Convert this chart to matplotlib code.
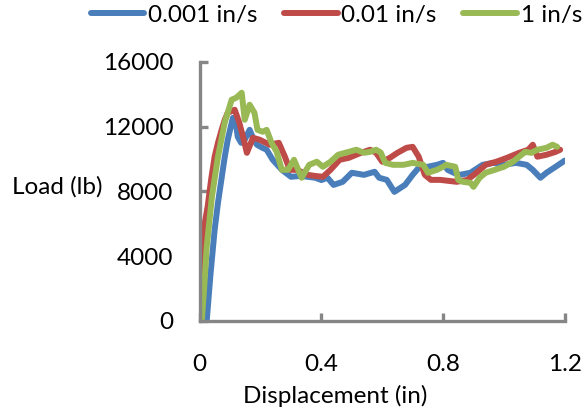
import matplotlib
matplotlib.use("Agg")
import matplotlib.pyplot as plt

plt.rcParams["font.family"] = ["Lato", "DejaVu Sans"]

# load-displacement records, three loading rates
disp_slow = [0.023, 0.035, 0.049, 0.06, 0.071, 0.082, 0.092, 0.109, 0.118, 0.125, 0.136, 0.148,
             0.164, 0.175, 0.188, 0.205, 0.22, 0.24, 0.27, 0.30, 0.33, 0.355, 0.38, 0.40, 0.42,
             0.44, 0.47, 0.50, 0.54, 0.575, 0.59, 0.615, 0.64, 0.675, 0.70, 0.72, 0.75, 0.78,
             0.80, 0.815, 0.835, 0.855, 0.89, 0.93, 0.965, 1.0, 1.04, 1.075, 1.095, 1.12, 1.14,
             1.17, 1.2]
load_slow = [0, 2800, 5620, 7300, 8700, 10100, 11180, 12540, 12300, 11370, 11000, 11180,
             11800, 11300, 10880, 10700, 10570, 9950, 9330, 8900, 8950, 8900, 8840, 8700, 8840,
             8400, 8590, 9150, 9020, 9210, 8840, 8710, 7970, 8400, 9020, 9460, 9520, 9640,
             9760, 9330, 9150, 9020, 9150, 9640, 9760, 9640, 9760, 9640, 9330, 8840, 9150,
             9520, 9900]

disp_mid = [0.0, 0.005, 0.01, 0.018, 0.026, 0.038, 0.049, 0.06, 0.072, 0.082, 0.092, 0.115,
            0.13, 0.142, 0.155, 0.175, 0.197, 0.23, 0.26, 0.28, 0.296, 0.32, 0.355, 0.38, 0.405,
            0.43, 0.46, 0.49, 0.53, 0.56, 0.58, 0.60, 0.625, 0.65, 0.68, 0.70, 0.72, 0.74,
            0.76, 0.79, 0.845, 0.88, 0.91, 0.94, 0.975, 1.01, 1.05, 1.08, 1.095, 1.11, 1.14,
            1.17, 1.185]
load_mid = [500, 3000, 5000, 6200, 7050, 8800, 10140, 11000, 11800, 12400, 12850, 13040,
            12240, 11400, 10380, 11310, 11190, 10880, 11000, 10140, 9330, 9330, 9020, 8950, 8900,
            9330, 9950, 10070, 10380, 10570, 10380, 9830, 10070, 10380, 10690, 10750, 10140, 9020,
            8710, 8710, 8590, 8710, 9150, 9640, 9830, 10070, 10380, 10570, 10880, 10140, 10260,
            10440, 10570]

disp_fast = [0.007, 0.015, 0.023, 0.04, 0.06, 0.082, 0.105, 0.12, 0.138, 0.148, 0.164, 0.18,
             0.19, 0.207, 0.22, 0.236, 0.253, 0.27, 0.29, 0.31, 0.335, 0.36, 0.385, 0.405, 0.43,
             0.455, 0.49, 0.515, 0.54, 0.56, 0.58, 0.595, 0.61, 0.635, 0.67, 0.70, 0.735, 0.75,
             0.78, 0.80, 0.81, 0.84, 0.85, 0.865, 0.89, 0.90, 0.92, 0.94, 0.97, 1.0, 1.03, 1.05,
             1.07, 1.09, 1.11, 1.14, 1.16, 1.175]
load_fast = [60, 2200, 4570, 7660, 10140, 12240, 13660, 13780, 14090, 12420, 13350, 12850,
             11800, 11680, 11800, 11000, 10440, 9330, 9330, 9950, 8840, 9640, 9830, 9520, 9830,
             10260, 10440, 10570, 10380, 10440, 10570, 10400, 9760, 9640, 9640, 9760, 9640, 9150,
             9330, 9520, 9640, 9520, 8710, 8590, 8530, 8280, 8840, 9150, 9330, 9520, 9830, 10140,
             10440, 10380, 10570, 10690, 10880, 10750]

series = [
    ("0.001 in/s", disp_slow, load_slow, "#4A7EBB"),
    ("0.01 in/s", disp_mid, load_mid, "#BE4B48"),
    ("1 in/s", disp_fast, load_fast, "#98B954"),
]

fs = 17.5
fig = plt.figure(figsize=(5.84, 4.12), dpi=100)
ax = fig.add_axes([0.342, 0.221, 0.625, 0.629])

for label, x, y, color in series:
    ax.plot(x, y, color=color, lw=4.3, label=label, solid_capstyle="round",
            solid_joinstyle="round")

ax.set_xlim(0, 1.2)
ax.set_ylim(0, 16000)
ax.set_xticks([0, 0.4, 0.8, 1.2])
ax.set_xticklabels(["0", "0.4", "0.8", "1.2"])
ax.set_yticks([0, 4000, 8000, 12000, 16000])

gray = "#868686"
for side in ["top", "right"]:
    ax.spines[side].set_visible(False)
for side in ["left", "bottom"]:
    ax.spines[side].set_color(gray)
    ax.spines[side].set_linewidth(2.4)
ax.tick_params(direction="in", length=6, width=2.4, color=gray, labelsize=fs)
ax.tick_params(axis="x", pad=24)
ax.tick_params(axis="y", pad=19)

fig.text(0.574, 0.022, "Displacement (in)", fontsize=fs, ha="center", va="baseline")
fig.text(0.098, 0.546, "Load (lb)", fontsize=fs, ha="center", va="center")

fig.legend(loc="center", bbox_to_anchor=(0.576, 0.963), ncol=3, frameon=False,
           fontsize=fs, handlelength=2.2, handletextpad=0.15, columnspacing=1.1)

fig.savefig("out.png", dpi=100)
